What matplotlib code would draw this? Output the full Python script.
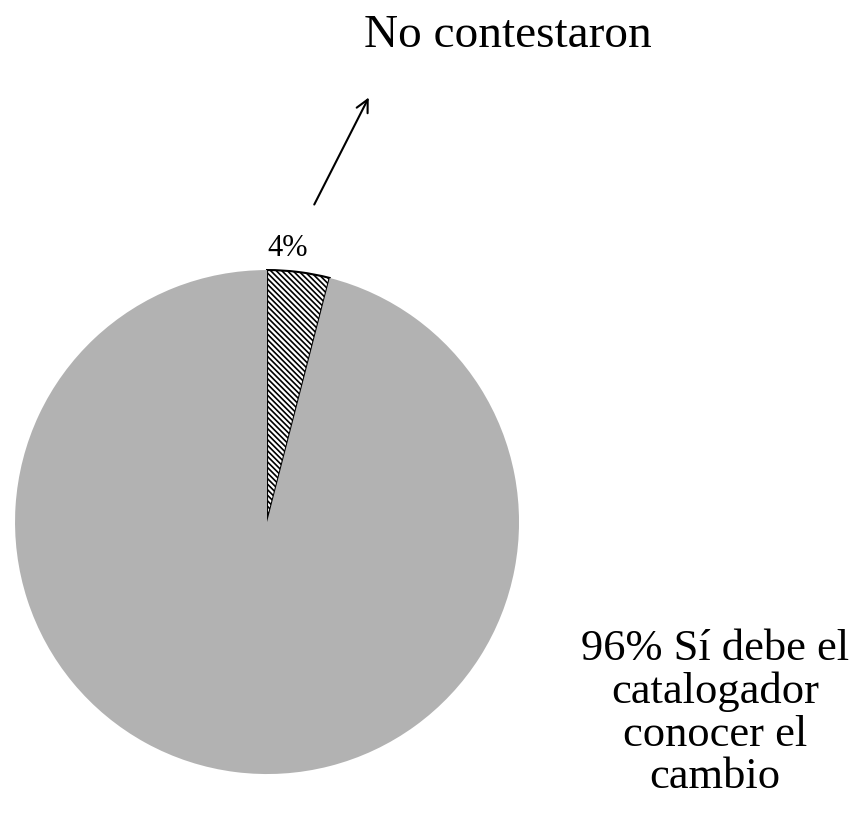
import matplotlib.pyplot as plt
from matplotlib.patches import FancyArrowPatch

# Data
labels = ['No contestaron', 'Sí debe el catalogador conocer el cambio']
values = [4, 96]
pct_labels = ['4%', '96%']

plt.rcParams['font.family'] = ['Liberation Serif', 'DejaVu Serif']
plt.rcParams['hatch.linewidth'] = 1.2

fig = plt.figure(figsize=(8.53, 8.34), dpi=100)
ax = fig.add_axes([0.0176, 0.0719, 0.5909, 0.6043])

wedges, _ = ax.pie(values, startangle=90, counterclock=False,
                   colors=['white', '#b2b2b2'], radius=1)
wedges[0].set_hatch('\\' * 6)
wedges[0].set_edgecolor('black')
wedges[0].set_linewidth(1.5)
wedges[1].set_edgecolor('none')
ax.set_xlim(-1, 1)
ax.set_ylim(-1, 1)
ax.set_aspect('equal')
ax.axis('off')

# slice label
fig.text(288 / 853, 1 - 249 / 834, pct_labels[0], ha='center', va='center', fontsize=22)

# arrow to the top label
fig.add_artist(FancyArrowPatch(
    (313 / 853, 1 - 207 / 834), (370 / 853, 1 - 95 / 834),
    transform=fig.transFigure, arrowstyle='->', mutation_scale=22,
    color='black', linewidth=1.5))

fig.text(508 / 853, 1 - 36 / 834, labels[0], ha='center', va='center', fontsize=34)
fig.text(715 / 853, 1 - 713 / 834, pct_labels[1] + ' Sí debe el\ncatalogador\nconocer el\ncambio',
         ha='center', va='center', fontsize=32, linespacing=1.08)

fig.savefig('out.png', dpi=100)
